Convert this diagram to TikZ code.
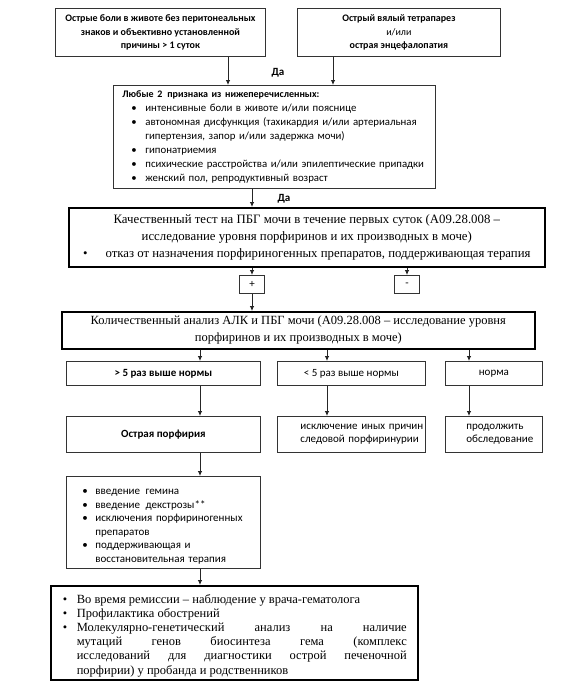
\documentclass[tikz,border=0pt]{standalone}
\usepackage{fontspec}
\setmainfont{Carlito}
\newfontfamily\tnrfont{Liberation Serif}
\usetikzlibrary{arrows.meta}

\newcommand{\calfont}{\fontsize{11}{13.5}\selectfont}
\newcommand{\romfont}[1]{\tnrfont\fontsize{#1}{17}\selectfont}
% bullet line: indent before bullet, gap from bullet to text
\newcommand{\bitem}[2]{\par\noindent\hangindent=\dimexpr#1+#2\relax\hangafter=1%
  \hspace*{#1}\makebox[#2][l]{\textbullet}}
% indented line that never wraps
\newcommand{\inline}[2]{\hspace*{#1}\mbox{#2}}

\begin{document}
\begin{tikzpicture}[x=1pt, y=-1pt,
        cbox/.style={draw=black!80, line width=0.8pt, anchor=north west,
                     align=center, inner sep=2pt, font=\calfont},
        tbox/.style={draw, line width=1.6pt, anchor=north west,
                     align=center, inner sep=3pt, font=\romfont{12.8}},
        arr/.style={-{Latex[length=5pt,width=4.5pt]}, line width=0.8pt, black!85},
        yes/.style={font=\calfont\bfseries},
    ]
    \useasboundingbox (0,0) rectangle (575,686);

    % arrow columns
    \coordinate (ca) at (228,0);
    \coordinate (cb) at (333,0);
    \coordinate (cp) at (252,0);
    \coordinate (cm) at (407,0);
    \coordinate (c1) at (200,0);
    \coordinate (c2) at (327,0);
    \coordinate (c3) at (469,0);

    % entry
    \node[cbox, minimum width=210pt, minimum height=48pt,
          font=\fontsize{10}{13.5}\selectfont\bfseries]
        (pain) at (55,8)
        {Острые боли в животе без перитонеальных\\знаков и объективно установленной\\причины > 1 суток};
    \node[cbox, minimum width=203pt, minimum height=48pt,
          font=\fontsize{10}{13.5}\selectfont] (paresis) at (297,8)
        {\textbf{Острый вялый тетрапарез}\\и/или\\\textbf{острая энцефалопатия}};
    \node[yes] (da1) at (278,73) {Да};

    \node[cbox, align=left, text width=304pt, inner xsep=9pt, minimum height=103pt,
          font=\fontsize{10.8}{14}\selectfont]
        (signs) at (113,85)
        {{\fontsize{10}{14}\selectfont\textbf{Любые 2\enspace признака из нижеперечисленных:}}
         \bitem{9pt}{14pt}интенсивные боли в животе и/или пояснице
         \bitem{9pt}{14pt}автономная дисфункция (тахикардия и/или артериальная гипертензия, запор и/или задержка мочи)
         \bitem{9pt}{14pt}гипонатриемия
         \bitem{9pt}{14pt}психические расстройства и/или эпилептические припадки
         \bitem{9pt}{14pt}женский пол, репродуктивный возраст\par};
    \node[yes] (da2) at (284,199) {Да};

    % tests
    \node[tbox, minimum width=476pt, minimum height=59pt] (qual) at (68,207)
        {Качественный тест на ПБГ мочи в течение первых суток (A09.28.008 –\\
         исследование уровня порфиринов и их производных в моче)\\
         \textbullet\hspace{18pt}отказ от назначения порфириногенных препаратов, поддерживающая терапия};
    \node[cbox, anchor=north, minimum width=25pt, minimum height=18pt] (plus) at (cp |- 0,275) {+};
    \node[cbox, anchor=north, minimum width=25pt, minimum height=18pt] (minus) at (cm |- 0,275) {-};

    \node[tbox, minimum width=473pt, minimum height=37pt, font=\romfont{12.5}]
        (quant) at (61,311)
        {Количественный анализ АЛК и ПБГ мочи (A09.28.008 – исследование уровня\\
         порфиринов и их производных в моче)};

    % results
    \node[cbox, minimum width=194pt, minimum height=24pt, font=\calfont\bfseries]
        (high) at (66,361) {> 5 раз выше нормы};
    \node[cbox, minimum width=148pt, minimum height=24pt] (low) at (277,361) {< 5 раз выше нормы};
    \node[cbox, minimum width=97pt, minimum height=24pt] (norm) at (445,361) {норма};

    \node[cbox, minimum width=194pt, minimum height=36pt, font=\calfont\bfseries]
        (acute) at (66,416) {Острая порфирия};
    \node[cbox, minimum width=148pt, minimum height=36pt, align=left,
          text width=144pt] (other) at (277,416)
        {\inline{21pt}{исключение иных причин}\\\inline{21pt}{следовой порфиринурии}};
    \node[cbox, minimum width=97pt, minimum height=36pt, align=left,
          text width=93pt] (cont) at (445,416)
        {\inline{19pt}{продолжить}\\\inline{19pt}{обследование}};

    \node[cbox, align=left, text width=176pt, inner xsep=9pt, minimum height=92pt]
        (treat) at (66,476)
        {\bitem{7pt}{13pt}введение\enspace гемина
         \bitem{7pt}{13pt}введение\enspace декстрозы**
         \bitem{7pt}{13pt}исключения порфириногенных\newline препаратов
         \bitem{7pt}{13pt}поддерживающая и\newline восстановительная терапия\par};

    \node[tbox, align=justify, text width=345pt, inner xsep=11pt, minimum height=93pt,
          font=\tnrfont\fontsize{12.5}{14.2}\selectfont]
        (follow) at (50,585)
        {\hyphenpenalty=10000
         \bitem{1pt}{14pt}Во время ремиссии – наблюдение у врача-гематолога
         \bitem{1pt}{14pt}Профилактика обострений
         \bitem{1pt}{14pt}Молекулярно-генетический анализ на наличие\linebreak
         мутаций генов биосинтеза гема (комплекс\linebreak
         исследований для диагностики острой печеночной\linebreak
         порфирии) у пробанда и родственников\par};

    % connectors
    \draw[arr] (pain.south -| ca) -- (ca |- signs.north);
    \draw[arr] (paresis.south -| cb) -- (cb |- signs.north);
    \draw[arr] (signs.south -| cp) -- (cp |- qual.north);
    \draw[arr] (qual.south -| cp) -- (plus.north);
    \draw[arr] (qual.south -| cm) -- (minus.north);
    \draw[arr] (plus.south) -- (cp |- quant.north);
    \draw[arr] (quant.south -| c1) -- (c1 |- high.north);
    \draw[arr] (quant.south -| c2) -- (c2 |- low.north);
    \draw[arr] (quant.south -| c3) -- (c3 |- norm.north);
    \draw[arr] (high.south -| c1) -- (c1 |- acute.north);
    \draw[arr] (low.south -| c2) -- (c2 |- other.north);
    \draw[arr] (norm.south -| c3) -- (c3 |- cont.north);
    \draw[arr] (acute.south -| c1) -- (c1 |- treat.north);
    \draw[arr] (treat.south -| c1) -- (c1 |- follow.north);
\end{tikzpicture}
\end{document}
